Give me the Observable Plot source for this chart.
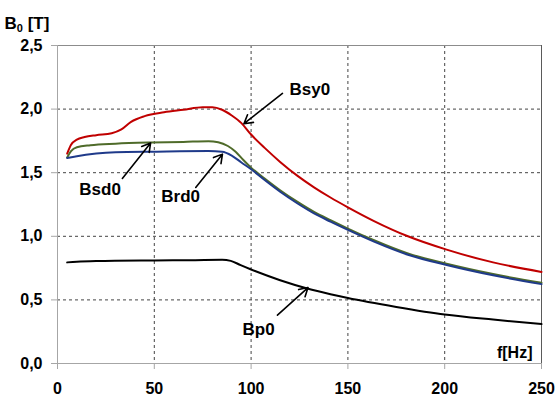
<!DOCTYPE html>
<html>
<head>
<meta charset="utf-8">
<script src="https://cdn.jsdelivr.net/npm/d3@7"></script>
<script src="https://cdn.jsdelivr.net/npm/@observablehq/plot@0.6"></script>
<style>
  html, body { margin: 0; padding: 0; background: #fff; }
  #chart svg { display: block; }
</style>
</head>
<body>
<div id="chart"></div>
<script>
// ---- data ----
const fSy = [5, 7, 10, 14, 20, 28, 33, 38, 45, 55, 65, 75, 80, 85, 90, 95, 100, 107, 115, 124, 132.5, 141, 150, 163.5, 181, 201, 225, 250];
const Bsy0 = [1.65, 1.72, 1.76, 1.78, 1.795, 1.81, 1.84, 1.90, 1.945, 1.975, 1.995, 2.015, 2.015, 1.995, 1.95, 1.89, 1.80, 1.695, 1.585, 1.475, 1.385, 1.305, 1.228, 1.12, 1.0, 0.895, 0.795, 0.72];

const fSd = [5, 7, 10, 17, 30, 48, 65, 78, 83, 88, 92, 96, 100, 107, 115, 124, 132.5, 141, 150, 163.5, 181, 201, 225, 250];
const Bsd0 = [1.62, 1.67, 1.70, 1.716, 1.728, 1.737, 1.742, 1.748, 1.74, 1.71, 1.665, 1.60, 1.54, 1.454, 1.362, 1.27, 1.192, 1.127, 1.061, 0.969, 0.865, 0.784, 0.703, 0.634];

const fRd = [5, 10, 20, 30, 50, 78, 85, 90, 95, 100, 107, 115, 124, 132.5, 141, 150, 163.5, 181, 201, 225, 250];
const Brd0 = [1.615, 1.63, 1.65, 1.66, 1.665, 1.67, 1.665, 1.635, 1.58, 1.527, 1.442, 1.35, 1.258, 1.18, 1.115, 1.05, 0.958, 0.855, 0.774, 0.693, 0.624];

const fP = [5, 10, 20, 50, 70, 85, 89.5, 94.6, 100, 115, 129, 141, 150, 175, 200, 225, 250];
const Bp0 = [0.795, 0.80, 0.805, 0.81, 0.812, 0.815, 0.807, 0.773, 0.739, 0.655, 0.59, 0.545, 0.515, 0.445, 0.385, 0.345, 0.31];

const seriesNames = ["Bsy0", "Bsd0", "Brd0", "Bp0"];
const seriesColors = ["#c00000", "#4f6b2a", "#1f3a8a", "#000000"];

const xTicks = [0, 50, 100, 150, 200, 250];
const yTicks = [0, 0.5, 1.0, 1.5, 2.0, 2.5];

// annotation labels and arrows (data coordinates)
const labelNames = ["Bsy0", "Bsd0", "Brd0", "Bp0"];
const labelF = [130.3, 22, 63.6, 103.9];
const labelB = [2.15, 1.37, 1.316, 0.27];
const arrowF1 = [116.2, 33.5, 71.4, 113.6];
const arrowB1 = [2.123, 1.455, 1.384, 0.38];
const arrowF2 = [96.3, 48.1, 85.2, 129.4];
const arrowB2 = [1.885, 1.734, 1.646, 0.597];

// ---- build tables ----
const seriesX = [fSy, fSd, fRd, fP];
const seriesY = [Bsy0, Bsd0, Brd0, Bp0];
const lines = [];
seriesNames.forEach((name, i) => {
  seriesX[i].forEach((f, j) => lines.push({series: name, f, B: seriesY[i][j]}));
});
const labels = labelNames.map((t, i) => ({t, f: labelF[i], B: labelB[i]}));
const arrows = labelNames.map((t, i) => ({x1: arrowF1[i], y1: arrowB1[i], x2: arrowF2[i], y2: arrowB2[i]}));

const font = "'Liberation Sans', Arial, sans-serif";

const chart = Plot.plot({
  width: 559,
  height: 399,
  marginLeft: 57,
  marginRight: 18,
  marginTop: 45,
  marginBottom: 36,
  style: {fontFamily: font, fontSize: "16px", fontWeight: "bold", background: "#fff", color: "#000"},
  x: {domain: [0, 250], axis: null},
  y: {domain: [0, 2.5], axis: null},
  color: {domain: seriesNames, range: seriesColors},
  marks: [
    Plot.gridX([50, 100, 150, 200], {stroke: "#444", strokeOpacity: 1, strokeDasharray: "3,3"}),
    Plot.gridY([0.5, 1.0, 1.5, 2.0], {stroke: "#444", strokeOpacity: 1, strokeDasharray: "3,3"}),
    Plot.ruleY([2.5], {stroke: "#8c8c8c"}),
    Plot.ruleX([250], {stroke: "#5a5a5a"}),
    Plot.ruleX([0], {stroke: "#a6a6a6"}),
    Plot.ruleY([0], {stroke: "#a6a6a6"}),
    Plot.axisX({ticks: xTicks, tickSize: 6, tickPadding: 13, stroke: "#a6a6a6", fill: "#000", tickFormat: d => String(d), fontSize: 16, fontWeight: "bold"}),
    Plot.axisY({ticks: yTicks, tickSize: 6, tickPadding: 9, stroke: "#a6a6a6", fill: "#000", tickFormat: d => d.toFixed(1).replace(".", ","), fontSize: 16, fontWeight: "bold"}),
    Plot.line(lines, {x: "f", y: "B", z: "series", stroke: "series", strokeWidth: 2, curve: "monotone-x"}),
    Plot.arrow(arrows, {x1: "x1", y1: "y1", x2: "x2", y2: "y2", stroke: "#000", strokeWidth: 1.6, headLength: 9}),
    Plot.text(labels, {x: "f", y: "B", text: "t", fontSize: 17, fontWeight: "bold", fill: "#000"}),
    Plot.text(["f[Hz]"], {frameAnchor: "bottom-right", dx: -9, dy: -11, textAnchor: "end", lineAnchor: "middle", fontSize: 16, fontWeight: "bold", fill: "#000"})
  ]
});

// y-axis title with subscript
const svg = d3.select(chart);
const title = svg.append("text")
  .attr("x", 27)
  .attr("y", 29)
  .attr("font-family", font)
  .attr("font-size", 17)
  .attr("font-weight", "bold")
  .attr("fill", "#000");
title.append("tspan").text("B");
title.append("tspan").attr("font-size", 11).attr("dy", 3).text("0");
title.append("tspan").attr("dy", -3).text(" [T]");

document.getElementById("chart").appendChild(chart);
</script>
</body>
</html>
